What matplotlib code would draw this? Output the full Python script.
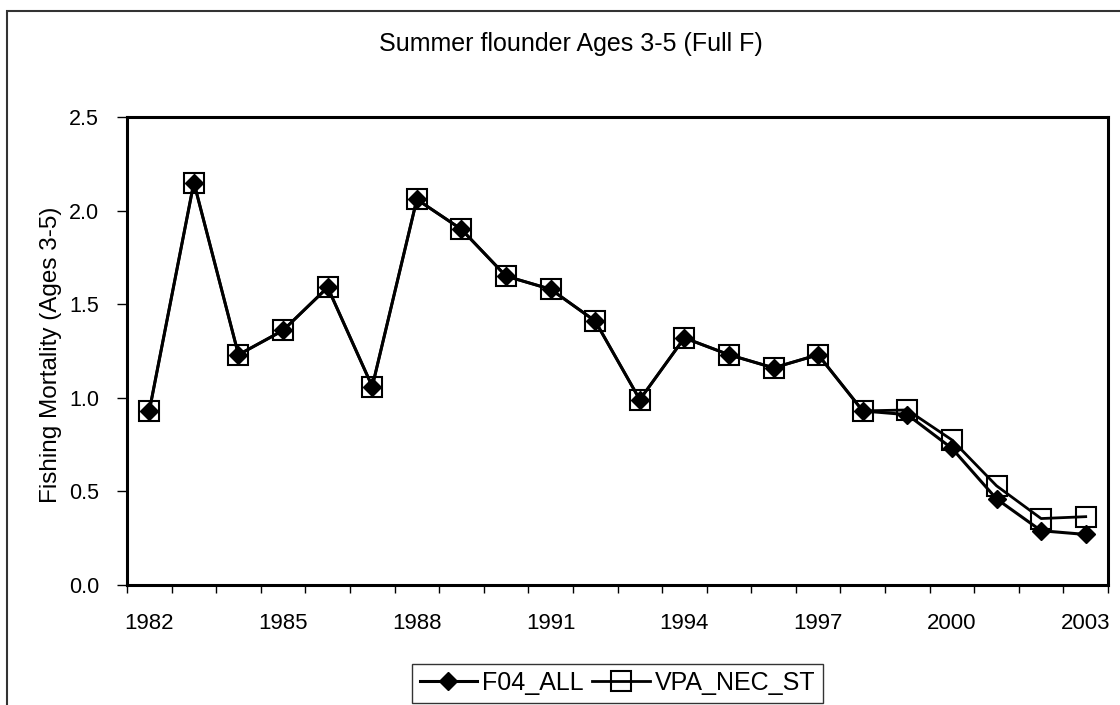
import matplotlib
matplotlib.use("Agg")
import matplotlib.pyplot as plt
from matplotlib.patches import Rectangle
from matplotlib.ticker import FixedLocator, FormatStrFormatter

plt.rcParams['font.family'] = ['Liberation Sans', 'DejaVu Sans']

years = list(range(1982, 2004))
f04_all = [0.93, 2.15, 1.23, 1.36, 1.59, 1.06, 2.06, 1.90, 1.65, 1.58, 1.41,
           0.99, 1.32, 1.23, 1.16, 1.23, 0.93, 0.91, 0.73, 0.46, 0.29, 0.27]
vpa_nec_st = [0.93, 2.15, 1.23, 1.36, 1.59, 1.06, 2.06, 1.90, 1.65, 1.58, 1.41,
              0.99, 1.32, 1.23, 1.16, 1.23, 0.93, 0.935, 0.775, 0.53, 0.355, 0.365]
label_years = [1982, 1985, 1988, 1991, 1994, 1997, 2000, 2003]

W, H = 1120, 705
FS = 18
fig = plt.figure(figsize=(W / 100, H / 100), dpi=100)
ax = fig.add_axes([127 / W, 1 - 585 / H, (1108 - 127) / W, (585 - 117) / H])

x = list(range(len(years)))
ax.plot(x, vpa_nec_st, color='black', lw=2.0, marker='s', markersize=14,
        markerfacecolor='none', markeredgecolor='black', markeredgewidth=1.5,
        label='VPA_NEC_ST', zorder=3)
ax.plot(x, f04_all, color='black', lw=2.2, marker='D', markersize=9.5,
        markerfacecolor='black', markeredgecolor='black',
        label='F04_ALL', zorder=4)

ax.set_xlim(-0.5, len(years) - 0.5)
ax.set_ylim(0, 2.5)
ax.set_yticks([0, 0.5, 1.0, 1.5, 2.0, 2.5])
ax.yaxis.set_major_formatter(FormatStrFormatter('%.1f'))

major = [years.index(y) for y in label_years]
ax.xaxis.set_major_locator(FixedLocator(major))
ax.set_xticklabels([str(y) for y in label_years])
ax.xaxis.set_minor_locator(FixedLocator([i - 0.5 for i in range(len(years) + 1)]))
ax.tick_params(axis='x', which='major', length=0, pad=20, labelsize=16)
ax.tick_params(axis='x', which='minor', length=6, width=1.0, direction='out')
ax.tick_params(axis='y', which='major', length=7, width=1.0, direction='out',
               pad=13, labelsize=15.5)

for s in ax.spines.values():
    s.set_linewidth(2.2)

fig.text(51 / W, 1 - 355 / H, 'Fishing Mortality (Ages 3-5)', rotation=90,
         ha='center', va='center', fontsize=17.5)
fig.text(571 / W, 1 - 44 / H, 'Summer flounder Ages 3-5 (Full F)',
         ha='center', va='center', fontsize=FS)

h, l = ax.get_legend_handles_labels()
leg = fig.legend([h[1], h[0]], [l[1], l[0]], loc='center',
                 bbox_to_anchor=(617.5 / W, 1 - 683 / H), ncol=2,
                 fontsize=FS, frameon=True, fancybox=False, shadow=False,
                 handlelength=2.3, handletextpad=0.2, columnspacing=0.35,
                 borderpad=0.3, borderaxespad=0)
leg.get_frame().set_edgecolor('black')
leg.get_frame().set_linewidth(1.0)

fig.add_artist(Rectangle((7 / W, -0.1), 1.2, (H - 11) / H + 0.1,
                         transform=fig.transFigure, fill=False,
                         edgecolor='#333333', lw=1.5))

fig.savefig('out.png', dpi=100)
